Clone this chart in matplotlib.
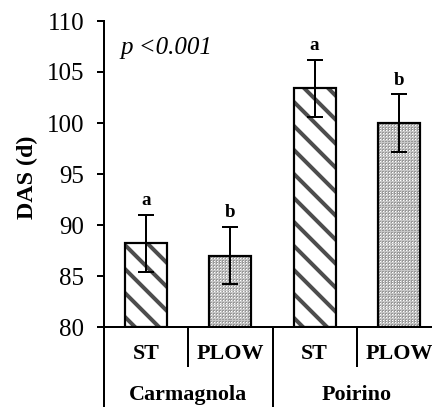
import matplotlib
matplotlib.use("Agg")
import matplotlib.pyplot as plt
import numpy as np

plt.rcParams['font.family'] = ['Liberation Serif', 'DejaVu Serif']
plt.rcParams['hatch.linewidth'] = 4.0

# DAS (days after sowing) per site and tillage
sites = ["Carmagnola", "Poirino"]
tillage = ["ST", "PLOW", "ST", "PLOW"]
das = [88.2, 87.0, 103.4, 100.0]
se = [2.8, 2.8, 2.8, 2.8]
letters = ["a", "b", "a", "b"]

fig = plt.figure(figsize=(6, 407 / 72), dpi=72)
ax = fig.add_axes([104 / 432, 80 / 407, 337 / 432, 306 / 407])
ax.set_ylim(80, 110)
ax.set_xlim(-0.5, 3.5)

x = list(range(len(das)))
st_x = [i for i in x if tillage[i] == "ST"]
pl_x = [i for i in x if tillage[i] == "PLOW"]

# striped bars (ST)
ax.bar(st_x, [das[i] - 80 for i in st_x], bottom=80, width=0.5,
       color="white", edgecolor="#4d4d4d", hatch="\\", linewidth=0, zorder=2)

# stippled bars (PLOW): small dot texture clipped to each bar
tile = np.full((3, 3), 0.60)
tile[1, 1] = 1.0
tile[2, :] = 0.78
tile[:, 2] = 0.78
texture = np.tile(tile, (110, 120))
pl_bars = ax.bar(pl_x, [das[i] - 80 for i in pl_x], bottom=80, width=0.5,
                 color="none", linewidth=0, zorder=2)
for p in pl_bars.patches:
    im = ax.imshow(texture, cmap="gray", vmin=0, vmax=1, interpolation="nearest",
                   extent=(-0.5, 3.5, 80, 110), aspect="auto", zorder=2)
    im.set_clip_path(p)

ax.bar(x, [d - 80 for d in das], bottom=80, width=0.5, fill=False,
       edgecolor="black", linewidth=2.2, zorder=3)
ax.errorbar(x, das, yerr=se, fmt="none", ecolor="black", elinewidth=2,
            capsize=8, capthick=2, zorder=4)

for i in x:
    ax.text(i, das[i] + se[i] + 0.55, letters[i], ha="center", va="bottom",
            fontsize=19, fontweight="bold")

ax.text(-0.31, 107.4, "p <0.001", fontsize=25, style="italic",
        ha="left", va="center")

ax.set_ylim(80, 110)
ax.set_xlim(-0.5, 3.5)
ax.set_yticks(range(80, 111, 5))
ax.tick_params(axis="y", labelsize=25, width=2, length=7, direction="out", pad=13)
ax.set_xticks([])
for s in ["top", "right"]:
    ax.spines[s].set_visible(False)
ax.spines["left"].set_linewidth(2)
ax.spines["bottom"].set_linewidth(2)

# two-level category axis
tr = ax.get_xaxis_transform()
for xs in [0.5, 2.5]:
    ax.plot([xs, xs], [0, -0.127], transform=tr, color="black", lw=2, clip_on=False)
for xs in [-0.5, 1.5, 3.5]:
    ax.plot([xs, xs], [0, -0.3], transform=tr, color="black", lw=2, clip_on=False)
for i in x:
    ax.text(i, -0.088, tillage[i], transform=tr, ha="center", va="center",
            fontsize=22, fontweight="bold")
for j, site in enumerate(sites):
    ax.text(2 * j + 0.5, -0.222, site, transform=tr, ha="center", va="center",
            fontsize=22, fontweight="bold")

fig.text(27 / 432, 0.565, "DAS (d)", rotation=90, ha="center", va="center",
         fontsize=24, fontweight="bold")

fig.savefig("out.png", dpi=72)
